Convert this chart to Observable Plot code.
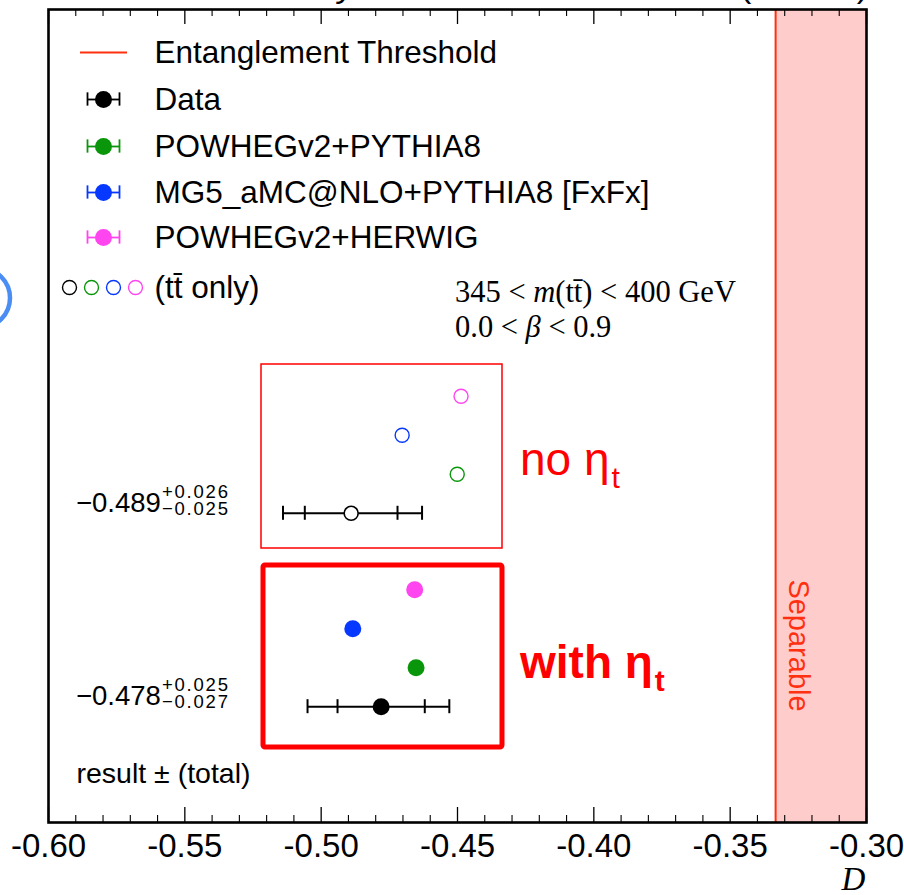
<!DOCTYPE html>
<html><head><meta charset="utf-8">
<script src="https://cdn.jsdelivr.net/npm/d3@7"></script>
<script src="https://cdn.jsdelivr.net/npm/@observablehq/plot@0.6"></script>
<style>
body{margin:0;background:#fff;}
#wrap{position:relative;width:904px;height:895px;overflow:hidden;background:#fff;}
</style></head><body><div id="wrap"></div>
<script>
// ---------------- data ----------------
const xDomain = [-0.6, -0.3];
const xMajorTicks = [-0.6, -0.55, -0.5, -0.45, -0.4, -0.35, -0.3];
const threshold = -1/3;
const groups = ["no ηt", "with ηt"];
const dataValue = [-0.489, -0.478];
const totalUp = [0.026, 0.025];
const totalDown = [0.025, 0.027];
const innerErr = [0.017, 0.016];
const mcNames = ["POWHEGv2+PYTHIA8", "MG5_aMC@NLO+PYTHIA8 [FxFx]", "POWHEGv2+HERWIG"];
const mcColors = ["#0a960a", "#0638ff", "#ff45f0"];
const mcNoEta = [-0.4501, -0.4703, -0.4487];
const mcWithEta = [-0.4652, -0.4884, -0.4657];
const groupRow = [7.93, 2.97];          // vertical slot of the Data point in each box
const resultText = [["−0.489", "+0.026", "−0.025"], ["−0.478", "+0.025", "−0.027"]];
const legendLabels = ["Entanglement Threshold", "Data", ...mcNames];

// ---------------- layout ----------------
const W = 904, H = 895, mL = 48, mR = 38, mT = 9, mB = 73;
const yMax = 20.85;
const innerW = W - mL - mR, innerH = H - mT - mB;
const px2x = px => xDomain[0] + (px - mL) * (xDomain[1] - xDomain[0]) / innerW;
const px2y = py => (H - mB - py) * yMax / innerH;
const dyU = px => px * yMax / innerH;
const RED = "#ff0000", THR = "#ff3010";
const SANS = "'Liberation Sans', Arial, Helvetica, sans-serif";
const SERIF = "'Liberation Serif', 'Times New Roman', serif";

const xMinorTicks = d3.range(-0.59, -0.3, 0.01).map(v => +v.toFixed(2)).filter(v => Math.abs(v*100 % 5) > 0.01);

const results = groups.map((g, i) => ({
  group: g, row: groupRow[i], v: dataValue[i],
  lo: dataValue[i] - totalDown[i], hi: dataValue[i] + totalUp[i],
  slo: dataValue[i] - innerErr[i], shi: dataValue[i] + innerErr[i], filled: i === 1
}));
const whiskers = results.flatMap(d => [d.lo, d.slo, d.shi, d.hi].map(x => ({x, row: d.row})));
const mcPoints = [
  ...mcNoEta.map((v, i) => ({v, row: groupRow[0] + i + 1, color: mcColors[i], filled: false})),
  ...mcWithEta.map((v, i) => ({v, row: groupRow[1] + i + 1, color: mcColors[i], filled: true}))
];
const boxes = [
  {x1: px2x(261), x2: px2x(502), y1: px2y(548), y2: px2y(364)},
  {x1: px2x(263), x2: px2x(502), y1: px2y(747), y2: px2y(565)}
];

// legend layout
const legRowsPx = [52, 99, 146, 192, 237, 287];
const legRows = legRowsPx.map(px2y);
const legMarkX = px2x(103), legTextX = px2x(154), legHalf = px2x(103 + 16) - legMarkX;
const legendMarkers = [1, 2, 3, 4].map(i => ({row: legRows[i], color: i === 1 ? "#000" : mcColors[i - 2]}));
const openCircles = ["#000", ...mcColors].map((c, i) => ({x: px2x(69 + 22 * i), row: legRows[5], color: c}));

const wh = dyU(7);
const majLen = dyU(15), minLen = dyU(7);

const plot = Plot.plot({
  width: W, height: H,
  marginLeft: mL, marginRight: mR, marginTop: mT, marginBottom: mB,
  x: {domain: xDomain, label: null},
  y: {domain: [0, yMax], axis: null},
  color: {type: "identity"},
  style: {fontFamily: SANS, background: "white", overflow: "visible"},
  marks: [
    Plot.rect([0], {x1: threshold, x2: xDomain[1], fill: "#ffcccc"}),
    Plot.ruleX([threshold], {stroke: THR, strokeWidth: 2}),
    // tick marks (inward)
    Plot.ruleX(xMajorTicks, {x: d => d, y1: 0, y2: majLen, stroke: "#000", strokeWidth: 1.3}),
    Plot.ruleX(xMajorTicks, {x: d => d, y1: yMax - majLen, y2: yMax, stroke: "#000", strokeWidth: 1.3}),
    Plot.ruleX(xMinorTicks, {x: d => d, y1: 0, y2: minLen, stroke: "#000", strokeWidth: 1.1}),
    Plot.ruleX(xMinorTicks, {x: d => d, y1: yMax - minLen, y2: yMax, stroke: "#000", strokeWidth: 1.1}),
    // boxes
    Plot.rect(boxes.slice(0, 1), {x1: "x1", x2: "x2", y1: "y1", y2: "y2", fill: "none", stroke: RED, strokeWidth: 1.5}),
    Plot.rect(boxes.slice(1), {x1: "x1", x2: "x2", y1: "y1", y2: "y2", fill: "none", stroke: RED, strokeWidth: 5, rx: 2}),
    // data error bars
    Plot.ruleY(results, {y: "row", x1: "lo", x2: "hi", stroke: "#000", strokeWidth: 2}),
    Plot.ruleX(whiskers, {x: "x", y1: d => d.row - wh, y2: d => d.row + wh, stroke: "#000", strokeWidth: 2}),
    Plot.dot(results.filter(d => !d.filled), {x: "v", y: "row", r: 7, fill: "white", stroke: "#000", strokeWidth: 1.6}),
    Plot.dot(results.filter(d => d.filled), {x: "v", y: "row", r: 8.5, fill: "#000", stroke: "none"}),
    // MC points
    Plot.dot(mcPoints.filter(d => !d.filled), {x: "v", y: "row", r: 7, fill: "white", stroke: "color", strokeWidth: 1.4}),
    Plot.dot(mcPoints.filter(d => d.filled), {x: "v", y: "row", r: 8.5, fill: "color", stroke: "none"}),
    // legend
    Plot.ruleY([legRows[0]], {y: d => d, x1: px2x(80), x2: px2x(127), stroke: THR, strokeWidth: 2}),
    Plot.ruleY(legendMarkers, {y: "row", x1: legMarkX - legHalf, x2: legMarkX + legHalf, stroke: "color", strokeWidth: 1.8}),
    Plot.ruleX(legendMarkers, {x: legMarkX - legHalf, y1: d => d.row - wh*0.95, y2: d => d.row + wh*0.95, stroke: "color", strokeWidth: 1.8}),
    Plot.ruleX(legendMarkers, {x: legMarkX + legHalf, y1: d => d.row - wh*0.95, y2: d => d.row + wh*0.95, stroke: "color", strokeWidth: 1.8}),
    Plot.dot(legendMarkers, {x: legMarkX, y: "row", r: 8.5, fill: "color"}),
    Plot.dot(openCircles, {x: "x", y: "row", r: 7, fill: "none", stroke: "color", strokeWidth: 1.4}),
    Plot.text(legendLabels, {x: legTextX, y: (d, i) => legRows[i], text: d => d, textAnchor: "start", fontSize: 31.5, fill: "#000"}),
    Plot.text(["(tt̄ only)"], {x: legTextX, y: legRows[5], text: d => d, textAnchor: "start", fontSize: 31.5, fill: "#000"}),
    // separable label
    Plot.text(["Separable"], {x: px2x(798), y: px2y(645), text: d => d, rotate: 90, fontSize: 29, fill: THR}),
    Plot.text(["result ± (total)"], {x: px2x(76), y: px2y(773), text: d => d, textAnchor: "start", fontSize: 28.5, fill: "#000"}),
    Plot.frame({stroke: "#000", strokeWidth: 2.6}),
    Plot.axisX({anchor: "bottom", ticks: xMajorTicks, tickSize: 0, tickPadding: 11, tickFormat: d => d.toFixed(2), fontSize: 33, fill: "#000"}),
    Plot.text(["D"], {x: xDomain[1], frameAnchor: "bottom", dy: 67, dx: -13, text: d => d, fontSize: 33, fontFamily: SERIF, fontStyle: "italic", fill: "#000"})
  ]
});
document.getElementById("wrap").appendChild(plot);

// ---------- rich-text annotations using the plot's scales ----------
const sx = v => plot.scale("x").apply(v), sy = v => plot.scale("y").apply(v);
const svg = d3.select(plot);
const ann = svg.append("g").attr("text-anchor", "start");

// results with asymmetric errors
resultText.forEach((t, i) => {
  const x0 = sx(px2x(76)), y0 = sy(groupRow[i]) - 1;
  const main = ann.append("text").attr("x", x0).attr("y", y0).attr("font-family", SANS)
    .attr("font-size", 27.5).attr("fill", "#000").text(t[0]);
  const w = main.node().getComputedTextLength();
  ann.append("text").attr("x", x0 + w + 1).attr("y", y0 - 14).attr("font-family", SANS)
    .attr("font-size", 18.5).attr("letter-spacing", 1.8).attr("fill", "#000").text(t[1]);
  ann.append("text").attr("x", x0 + w + 1).attr("y", y0 + 3).attr("font-family", SANS)
    .attr("font-size", 18.5).attr("letter-spacing", 1.8).attr("fill", "#000").text(t[2]);
});

// box labels
[["no η", "normal", 475], ["with η", "bold", 678]].forEach(([s, wgt, basePx]) => {
  const t = ann.append("text").attr("x", sx(px2x(520))).attr("y", sy(px2y(basePx)))
    .attr("font-family", SANS).attr("font-size", 46).attr("font-weight", wgt).attr("fill", RED);
  t.append("tspan").text(s);
  t.append("tspan").attr("font-size", 30).attr("dy", 13).attr("dx", 2).text("t");
});

// kinematic cut text (serif, italic variables)
const cut1 = ann.append("text").attr("x", sx(px2x(455))).attr("y", sy(px2y(302)))
  .attr("font-family", SERIF).attr("font-size", 30.5).attr("fill", "#000");
cut1.append("tspan").text("345 < ");
cut1.append("tspan").attr("font-style", "italic").text("m");
cut1.append("tspan").text("(tt̄) < 400 GeV");
const cut2 = ann.append("text").attr("x", sx(px2x(455))).attr("y", sy(px2y(337)))
  .attr("font-family", SERIF).attr("font-size", 30.5).attr("fill", "#000");
cut2.append("tspan").text("0.0 < ");
cut2.append("tspan").attr("font-style", "italic").text("β");
cut2.append("tspan").text(" < 0.9");

// header text cut off at the top edge of the image
ann.append("text").attr("x", 62).attr("y", -3).attr("font-family", SANS).attr("font-size", 34)
  .attr("font-weight", "bold").attr("fill", "#000").text("CMS");
ann.append("text").attr("x", 185).attr("y", -3).attr("font-family", SANS).attr("font-size", 34)
  .attr("font-style", "italic").attr("fill", "#000").text("Preliminary");
ann.append("text").attr("x", 868).attr("y", -3).attr("font-family", SANS).attr("font-size", 34)
  .attr("text-anchor", "end").attr("fill", "#000").text("138 fb⁻¹ (13 TeV)");
// fragment of a blue bracket at the left edge
svg.append("circle").attr("cx", -20).attr("cy", 298).attr("r", 30)
  .attr("fill", "none").attr("stroke", "#4a8ef5").attr("stroke-width", 4.5);
</script></body></html>
